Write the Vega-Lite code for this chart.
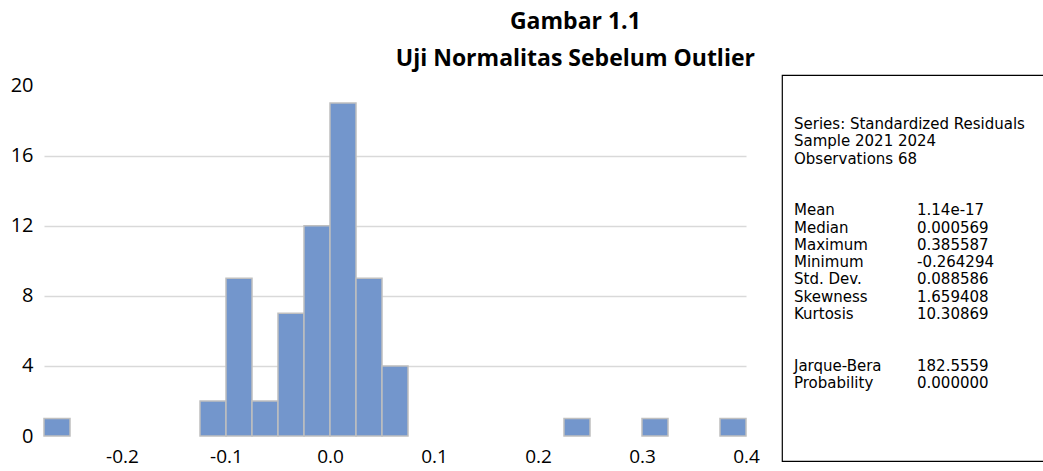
{
  "$schema": "https://vega.github.io/schema/vega-lite/v6.json",
  "padding": {"left": 10, "top": 11, "right": 0, "bottom": 3},
  "background": "#ffffff",
  "title": {
    "text": ["Gambar 1.1", "Uji Normalitas Sebelum Outlier"],
    "font": "Open Sans",
    "fontSize": 23,
    "fontWeight": "bold",
    "lineHeight": 37,
    "color": "#000000",
    "anchor": "middle",
    "dx": 48,
    "offset": 3
  },
  "config": {
    "view": {"stroke": null},
    "font": "Open Sans"
  },
  "spacing": 21,
  "hconcat": [
    {
      "width": 702,
      "height": 361,
      "data": {
        "values": [
          {"bin_start": -0.275, "bin_end": -0.25, "count": 1},
          {"bin_start": -0.125, "bin_end": -0.1, "count": 2},
          {"bin_start": -0.1, "bin_end": -0.075, "count": 9},
          {"bin_start": -0.075, "bin_end": -0.05, "count": 2},
          {"bin_start": -0.05, "bin_end": -0.025, "count": 7},
          {"bin_start": -0.025, "bin_end": 0.0, "count": 12},
          {"bin_start": 0.0, "bin_end": 0.025, "count": 19},
          {"bin_start": 0.025, "bin_end": 0.05, "count": 9},
          {"bin_start": 0.05, "bin_end": 0.075, "count": 4},
          {"bin_start": 0.225, "bin_end": 0.25, "count": 1},
          {"bin_start": 0.3, "bin_end": 0.325, "count": 1},
          {"bin_start": 0.375, "bin_end": 0.4, "count": 1}
        ]
      },
      "mark": {"type": "bar", "fill": "#7396CC", "stroke": "#BFBFBF", "strokeWidth": 1.5},
      "encoding": {
        "x": {
          "field": "bin_start",
          "type": "quantitative",
          "scale": {"domain": [-0.275, 0.4], "nice": false, "zero": false},
          "axis": {
            "title": null,
            "values": [-0.2, -0.1, 0, 0.1, 0.2, 0.3, 0.4],
            "format": ".1f",
            "labelExpr": "replace(datum.label, '\u2212', '-')",
            "grid": false,
            "ticks": false,
            "domain": false,
            "labelFont": "Open Sans",
            "labelFontSize": 19,
            "labelColor": "#000000",
            "labelPadding": 11,
            "labelFlush": false,
            "labelOverlap": false
          }
        },
        "x2": {"field": "bin_end"},
        "y": {
          "field": "count",
          "type": "quantitative",
          "scale": {"domain": [0, 20.6], "nice": false},
          "axis": {
            "title": null,
            "values": [0, 4, 8, 12, 16, 20],
            "grid": true,
            "gridColor": "#D9D9D9",
            "gridWidth": 1.5,
            "gridOpacity": {"condition": {"test": "datum.value === 0 || datum.value === 20", "value": 0}, "value": 1},
            "ticks": false,
            "domain": false,
            "labelFont": "Open Sans",
            "labelFontSize": 20,
            "labelColor": "#000000",
            "labelPadding": 11
          }
        },
        "y2": {"datum": 0}
      }
    },
    {
      "width": 262,
      "height": 386,
      "view": {"stroke": "#000000", "strokeWidth": 1.2},
      "data": {
        "values": [
          {"line": 0, "col": "name", "text": "Series: Standardized Residuals"},
          {"line": 1, "col": "name", "text": "Sample 2021 2024"},
          {"line": 2, "col": "name", "text": "Observations 68"},
          {"line": 5, "col": "name", "text": "Mean"},
          {"line": 5, "col": "value", "text": "1.14e-17"},
          {"line": 6, "col": "name", "text": "Median"},
          {"line": 6, "col": "value", "text": "0.000569"},
          {"line": 7, "col": "name", "text": "Maximum"},
          {"line": 7, "col": "value", "text": "0.385587"},
          {"line": 8, "col": "name", "text": "Minimum"},
          {"line": 8, "col": "value", "text": "-0.264294"},
          {"line": 9, "col": "name", "text": "Std. Dev."},
          {"line": 9, "col": "value", "text": "0.088586"},
          {"line": 10, "col": "name", "text": "Skewness"},
          {"line": 10, "col": "value", "text": "1.659408"},
          {"line": 11, "col": "name", "text": "Kurtosis"},
          {"line": 11, "col": "value", "text": "10.30869"},
          {"line": 14, "col": "name", "text": "Jarque-Bera"},
          {"line": 14, "col": "value", "text": "182.5559"},
          {"line": 15, "col": "name", "text": "Probability"},
          {"line": 15, "col": "value", "text": "0.000000"}
        ]
      },
      "mark": {"type": "text", "align": "left", "baseline": "middle", "font": "DejaVu Sans", "fontSize": 15, "color": "#000000"},
      "encoding": {
        "x": {
          "field": "col",
          "type": "nominal",
          "scale": {"type": "point", "domain": ["name", "value"], "range": [12, 135], "padding": 0},
          "axis": null
        },
        "y": {
          "field": "line",
          "type": "quantitative",
          "scale": {"domain": [0, 15], "range": [49, 308]},
          "axis": null
        },
        "text": {"field": "text", "type": "nominal"}
      }
    }
  ]
}
